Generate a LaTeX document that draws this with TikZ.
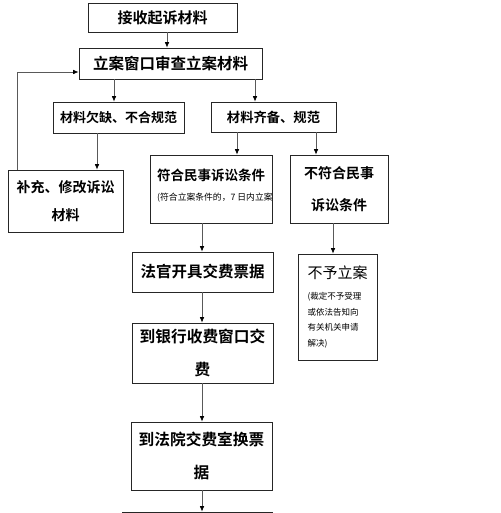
\documentclass[tikz,border=0pt]{standalone}
\usepackage{fontspec}
\newfontfamily\cjk{Noto Sans CJK SC}
\newfontfamily\cjkb{Noto Sans CJK SC Bold}
\usetikzlibrary{arrows.meta}
\begin{document}
\begin{tikzpicture}[x=1pt,y=-1pt,
  box/.style={draw=black!85, line width=0.7pt, inner sep=0pt, align=center},
  arr/.style={draw=black!65, line width=0.7pt, -{Latex[length=5.5pt,width=4.5pt,black]}},
  bigf/.style={font=\cjkb\fontsize{#1}{32}\selectfont},
  bigf/.default=15]
\useasboundingbox (0,0) rectangle (500,513);
\fill[white] (0,0) rectangle (500,513);

% boxes
\node[box, bigf=15, minimum width=149pt, minimum height=29pt] (b1) at (162.5,17.5) {接收起诉材料};
\node[box, bigf=15.5, minimum width=183pt, minimum height=31pt] (b2) at (170.5,63.5) {立案窗口审查立案材料};
\node[box, bigf=13, minimum width=131pt, minimum height=31pt] (b3) at (118.5,117.5) {材料欠缺、不合规范};
\node[box, bigf=13.3, minimum width=125pt, minimum height=30pt] (b4) at (273.5,117) {材料齐备、规范};
\node[box, font=\cjkb\fontsize{14}{28}\selectfont, minimum width=115pt, minimum height=62pt] (b5) at (65.5,201) {补充、修改诉讼\\材料};
\node[box, minimum width=122pt, minimum height=68pt] (b6) at (211,189) {};
\node[box, bigf=14, minimum width=98pt, minimum height=68pt] (b7) at (339,189) {不符合民事\\诉讼条件};
\node[box, bigf=15.5, minimum width=141pt, minimum height=40pt] (b8) at (202.5,272) {法官开具交费票据};
\node[box, align=left, font=\cjk\fontsize{8.5}{15.7}\selectfont, minimum width=79pt, minimum height=106pt] (b9) at (337.5,307)
  {{\fontsize{15}{15.7}\selectfont 不予立案}\\[5pt](裁定不予受理\\或依法告知向\\有关机关申请\\解决)};
\node[box, font=\cjkb\fontsize{15.7}{33}\selectfont, minimum width=141pt, minimum height=60pt] (b10) at (202.5,353) {到银行收费窗口交\\费};
\node[box, font=\cjkb\fontsize{15.7}{33}\selectfont, minimum width=141pt, minimum height=68pt] (b11) at (201.5,456) {到法院交费室换票\\据};
\node[box, minimum width=150pt, minimum height=40pt] (b12) at (197,532) {};

% text of the box that overflows (clipped at its border)
\begin{scope}
  \clip (b6.south west) rectangle (b6.north east);
  \node[anchor=west, inner sep=0pt, font=\cjkb\fontsize{13.5}{16}\selectfont] (t6a) at (157,175) {符合民事诉讼条件};
  \node[anchor=west, inner sep=0pt, font=\cjk\fontsize{8.8}{10}\selectfont] (t6b) at (157,198) {(符合立案条件的，7 日内立案};
\end{scope}

% columns for connectors
\coordinate (x17) at (17,0);
\coordinate (x97) at (97,0);
\coordinate (x114) at (114,0);
\coordinate (x167) at (167,0);
\coordinate (x202) at (202,0);
\coordinate (x237) at (237,0);
\coordinate (x255) at (255,0);
\coordinate (x316) at (316,0);
\coordinate (x333) at (333,0);
\coordinate (y72) at (0,72);

\draw[arr] (b1.south -| x167) -- (b2.north -| x167);
\draw[arr] (b2.south -| x114) -- (b3.north -| x114);
\draw[arr] (b2.south -| x255) -- (b4.north -| x255);
\draw[arr] (b3.south -| x97) -- (b5.north -| x97);
\draw[arr] (b5.north -| x17) |- (b2.west |- y72);
\draw[arr] (b4.south -| x237) -- (b6.north -| x237);
\draw[arr] (b4.south -| x316) -- (b7.north -| x316);
\draw[arr] (b6.south -| x202) -- (b8.north -| x202);
\draw[arr] (b7.south -| x333) -- (b9.north -| x333);
\draw[arr] (b8.south -| x202) -- (b10.north -| x202);
\draw[arr] (b10.south -| x202) -- (b11.north -| x202);
\draw[arr] (b11.south -| x202) -- (b12.north -| x202);
\end{tikzpicture}
\end{document}
